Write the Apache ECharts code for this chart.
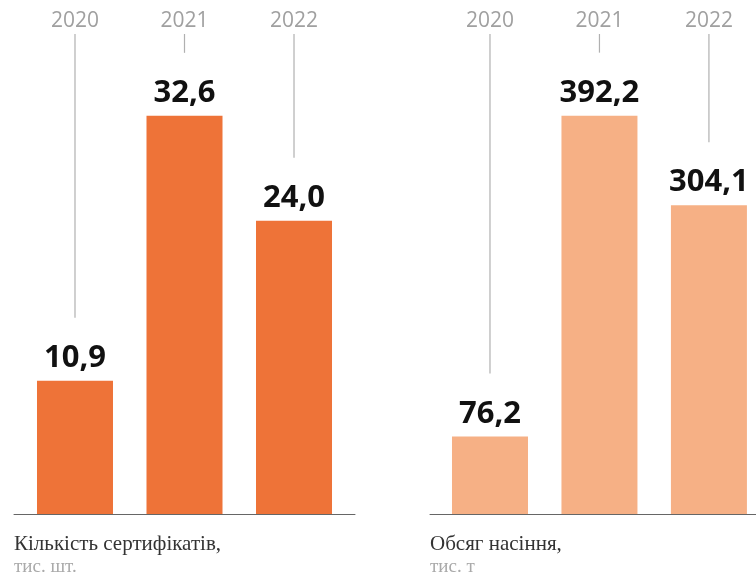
<!DOCTYPE html>
<html>
<head>
<meta charset="utf-8">
<script src="https://cdn.jsdelivr.net/npm/echarts@6/dist/echarts.min.js"></script>
<style>
  html, body { margin: 0; padding: 0; background: #fff; }
  #chart { width: 756px; height: 574px; }
</style>
</head>
<body>
<div id="chart"></div>
<script>
// роки
var years = ['2020', '2021', '2022']
// кількість сертифікатів, тис. шт.
var certCount = [10.9, 32.6, 24.0]
// обсяг насіння, тис. т
var seedVolume = [76.2, 392.2, 304.1]

var leftTitle = 'Кількість сертифікатів,'
var leftUnit = 'тис. шт.'
var rightTitle = 'Обсяг насіння,'
var rightUnit = 'тис. т'

function fmt(v) {
    return v.toFixed(1).replace('.', ',')
}

function pairs(data) {
    return data.map(function(v, i) { return [i, v] })
}

// вертикальна лінія від року до підпису
function leaderLine(params, api) {
    var p = api.coord([api.value(0), api.value(1)])
    return {
        type: 'line',
        shape: { x1: p[0], y1: params.coordSys.y, x2: p[0], y2: p[1] - 63 },
        style: { stroke: '#b0b0b0', lineWidth: 1.2 }
    }
}

function barSeries(idx, data, color) {
    return {
        type: 'bar',
        xAxisIndex: idx,
        yAxisIndex: idx,
        data: pairs(data),
        barWidth: 76,
        itemStyle: { color: color },
        label: {
            show: true,
            position: 'top',
            distance: 7,
            formatter: function(p) { return fmt(p.value[1]) },
            fontFamily: 'Noto Sans',
            fontWeight: 'bold',
            fontSize: 31,
            color: '#111'
        },
        silent: true
    }
}

function lineSeries(idx, data) {
    return {
        type: 'custom',
        xAxisIndex: idx,
        yAxisIndex: idx,
        data: pairs(data),
        encode: { x: 0, y: 1 },
        renderItem: leaderLine,
        silent: true
    }
}

// нижня вісь — лише лінія
function bottomAxis(grid, min, max) {
    return {
        type: 'value',
        gridIndex: grid,
        min: min,
        max: max,
        position: 'bottom',
        splitLine: { show: false },
        axisLine: { show: true, lineStyle: { color: '#666', width: 1 } },
        axisTick: { show: false },
        axisLabel: { show: false }
    }
}

// верхня вісь — підписи років
function topAxis(grid, min, max) {
    return {
        type: 'value',
        gridIndex: grid,
        min: min,
        max: max,
        position: 'top',
        splitLine: { show: false },
        axisLine: { show: false },
        axisTick: { show: false },
        axisLabel: {
            customValues: [0, 1, 2],
            formatter: function(v) { return years[Math.round(v)] },
            margin: 2,
            fontFamily: 'Open Sans',
            fontSize: 21,
            lineHeight: 21,
            color: '#a0a0a0'
        }
    }
}

function valueAxis(grid, max) {
    return {
        type: 'value',
        gridIndex: grid,
        min: 0,
        max: max,
        show: false,
        splitLine: { show: false }
    }
}

var chart = echarts.init(document.getElementById('chart'))
chart.setOption({
    animation: false,
    backgroundColor: '#fff',
    title: [
        {
            text: leftTitle,
            subtext: leftUnit,
            left: 9,
            top: 529,
            itemGap: 3,
            textStyle: { fontFamily: 'Liberation Serif', fontSize: 21, fontWeight: 'normal', color: '#333' },
            subtextStyle: { fontFamily: 'Liberation Serif', fontSize: 19, color: '#aaa' }
        },
        {
            text: rightTitle,
            subtext: rightUnit,
            left: 425,
            top: 529,
            itemGap: 3,
            textStyle: { fontFamily: 'Liberation Serif', fontSize: 21, fontWeight: 'normal', color: '#333' },
            subtextStyle: { fontFamily: 'Liberation Serif', fontSize: 19, color: '#aaa' }
        }
    ],
    grid: [
        { left: 14, width: 341, top: 34, bottom: 60 },
        { left: 430, right: 0, top: 34, bottom: 60 }
    ],
    xAxis: [
        bottomAxis(0, -0.557, 2.557),
        bottomAxis(1, -0.548, 2.43),
        topAxis(0, -0.557, 2.557),
        topAxis(1, -0.548, 2.43)
    ],
    yAxis: [valueAxis(0, 39.3), valueAxis(1, 472.6), valueAxis(0, 39.3), valueAxis(1, 472.6)],
    series: [
        lineSeries(0, certCount),
        lineSeries(1, seedVolume),
        barSeries(0, certCount, '#ee7338'),
        barSeries(1, seedVolume, '#f6b085')
    ]
})
</script>
</body>
</html>
